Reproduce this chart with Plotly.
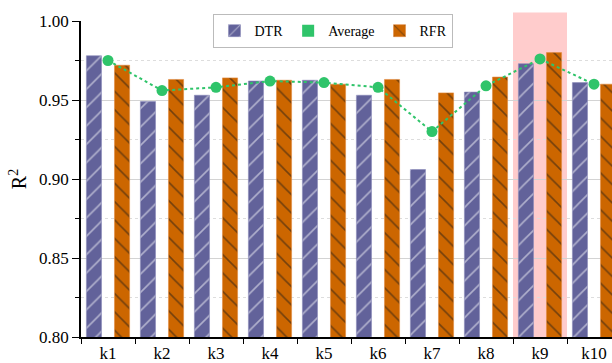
import plotly.graph_objects as go

categories = ["k1", "k2", "k3", "k4", "k5", "k6", "k7", "k8", "k9", "k10"]
dtr = [0.978, 0.949, 0.953, 0.962, 0.9625, 0.953, 0.906, 0.955, 0.973, 0.961]
rfr = [0.972, 0.963, 0.964, 0.9625, 0.960, 0.963, 0.9545, 0.9645, 0.980, 0.960]
average = [0.975, 0.956, 0.958, 0.962, 0.961, 0.958, 0.930, 0.959, 0.976, 0.960]
y_ticks = [0.80, 0.85, 0.90, 0.95, 1.00]
highlight = "k9"

PURPLE = "#62629A"
ORANGE = "#CC6600"
GREEN = "#2FC46A"
FONT = "Liberation Serif, Times New Roman, serif"

fig = go.Figure()

fig.add_shape(type="rect", xref="x", yref="paper",
              x0=categories.index(highlight) - 0.5, x1=categories.index(highlight) + 0.5,
              y0=0, y1=1.027, fillcolor="#FFCCCC", line_width=0, layer="below")

fig.add_trace(go.Bar(
    x=categories, y=dtr, name="DTR", width=0.28, offset=-0.40,
    marker=dict(color=PURPLE, line=dict(color="#8A8AB8", width=0.6),
                pattern=dict(shape="/", fgcolor="#FFFFFF", bgcolor=PURPLE,
                             size=13, solidity=0.12, fillmode="overlay")),
))
fig.add_trace(go.Bar(
    x=[categories[0]], y=[0], name="Average", width=0.28, offset=0,
    marker=dict(color=GREEN, line=dict(width=0)),
))
fig.add_trace(go.Bar(
    x=categories, y=rfr, name="RFR", width=0.28, offset=0.12,
    marker=dict(color=ORANGE, line=dict(color="#E08A40", width=0.6),
                pattern=dict(shape="\\", fgcolor="#1A1A1A", bgcolor=ORANGE,
                             size=13, solidity=0.12, fillmode="overlay")),
))
fig.add_trace(go.Scatter(
    x=categories, y=average, mode="lines+markers", name="Average", showlegend=False,
    line=dict(color=GREEN, width=2, dash="dot"),
    marker=dict(color=GREEN, size=11),
))

fig.update_layout(
    width=612, height=363,
    margin=dict(l=81, r=0, t=21, b=26),
    plot_bgcolor="white", paper_bgcolor="white",
    barmode="overlay",
    font=dict(family=FONT, size=17, color="black"),
    legend=dict(orientation="h", x=0.4755, xanchor="center", y=1.022, yanchor="top",
                bgcolor="white", bordercolor="#BBBBBB", borderwidth=1,
                font=dict(family=FONT, size=14), traceorder="normal",
                itemwidth=30, tracegroupgap=0),
    xaxis=dict(range=[-0.5, -0.5 + 531 / 54], type="category",
               showline=True, linecolor="black", linewidth=1.5,
               ticks="outside", ticklen=5, tickcolor="black", tickson="boundaries",
               showgrid=False, tickfont=dict(family=FONT, size=17)),
    yaxis=dict(range=[0.80, 1.00], tickvals=y_ticks, ticktext=[f"{v:.2f}" for v in y_ticks],
               showline=True, linecolor="black", linewidth=1.5,
               ticks="outside", ticklen=7, tickcolor="black",
               showgrid=True, gridcolor="#D3D3D3", gridwidth=1,
               zeroline=False, tickfont=dict(family=FONT, size=17),
               minor=dict(tickvals=[0.825, 0.875, 0.925, 0.975], ticks="outside", ticklen=4,
                          tickcolor="black", showgrid=True, gridcolor="#DDDDDD",
                          griddash="dot", gridwidth=1),
               title=dict(text="R<sup>2</sup>", font=dict(family=FONT, size=20), standoff=7)),
)

fig.write_html("out.html")
